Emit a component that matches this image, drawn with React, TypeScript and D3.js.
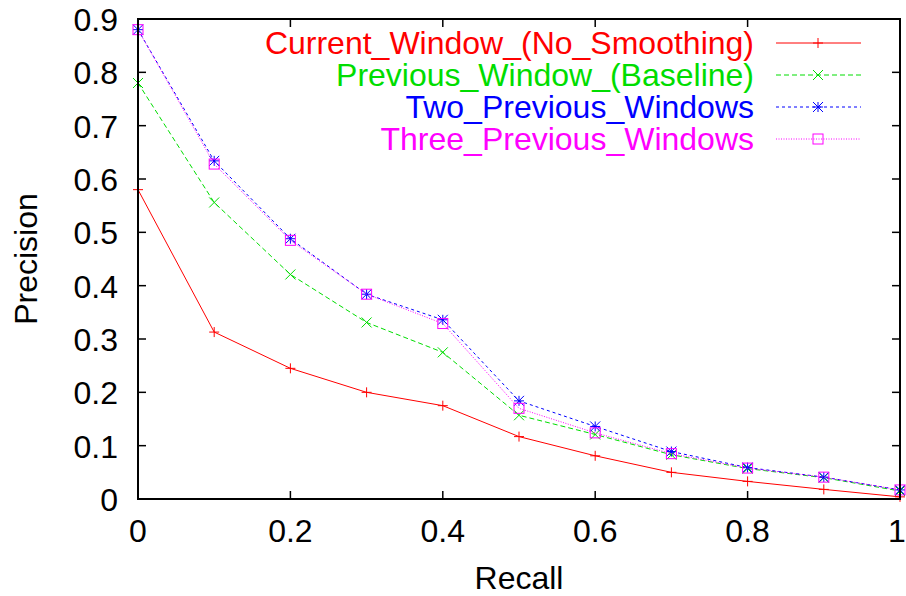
import React from "react";
import * as d3 from "d3";

const W = 906;
const H = 596;

// Recall levels on the x axis
const recall = [0, 0.1, 0.2, 0.3, 0.4, 0.5, 0.6, 0.7, 0.8, 0.9, 1.0];

// Precision at each recall level, one array per smoothing variant
const currentWindow = [0.58, 0.313, 0.245, 0.2, 0.175, 0.117, 0.081, 0.05, 0.033, 0.018, 0.004];
const previousWindow = [0.78, 0.556, 0.421, 0.331, 0.275, 0.157, 0.121, 0.083, 0.057, 0.04, 0.015];
const twoPrevious = [0.88, 0.634, 0.488, 0.384, 0.336, 0.184, 0.136, 0.089, 0.059, 0.041, 0.017];
const threePrevious = [0.88, 0.628, 0.485, 0.384, 0.329, 0.17, 0.124, 0.085, 0.058, 0.041, 0.017];

const seriesNames = [
  "Current_Window_(No_Smoothing)",
  "Previous_Window_(Baseline)",
  "Two_Previous_Windows",
  "Three_Previous_Windows",
];

const xTicks = [0, 0.2, 0.4, 0.6, 0.8, 1];
const yTicks = [0, 0.1, 0.2, 0.3, 0.4, 0.5, 0.6, 0.7, 0.8, 0.9];

type Marker = "plus" | "cross" | "star" | "square";

const styles: { color: string; dash: string; marker: Marker }[] = [
  { color: "#ff0000", dash: "none", marker: "plus" },
  { color: "#00dd00", dash: "5,3", marker: "cross" },
  { color: "#0000ff", dash: "3,3", marker: "star" },
  { color: "#ff00ff", dash: "1,1.5", marker: "square" },
];

const FONT = "'Liberation Sans', Arial, sans-serif";
const FS = 32;

const left = 138;
const right = 900;
const top = 19;
const bottom = 499;

const x = d3.scaleLinear().domain([0, 1]).range([left, right]);
const y = d3.scaleLinear().domain([0, 0.9]).range([bottom, top]);

function MarkerShape({ kind, cx, cy, color }: { kind: Marker; cx: number; cy: number; color: string }) {
  const s = 5;
  const p = { stroke: color, strokeWidth: 1, fill: "none" };
  if (kind === "plus") {
    return <path {...p} d={`M${cx - s},${cy}H${cx + s}M${cx},${cy - s}V${cy + s}`} />;
  }
  if (kind === "cross") {
    return (
      <path {...p} d={`M${cx - s},${cy - s}L${cx + s},${cy + s}M${cx - s},${cy + s}L${cx + s},${cy - s}`} />
    );
  }
  if (kind === "star") {
    return (
      <path
        {...p}
        d={`M${cx - s},${cy}H${cx + s}M${cx},${cy - s}V${cy + s}M${cx - s},${cy - s}L${cx + s},${cy + s}M${cx - s},${cy + s}L${cx + s},${cy - s}`}
      />
    );
  }
  return <rect {...p} x={cx - s} y={cy - s} width={2 * s} height={2 * s} />;
}

export default function App() {
  const series = [currentWindow, previousWindow, twoPrevious, threePrevious];
  const line = d3
    .line<number>()
    .x((_, i) => x(recall[i]))
    .y((d) => y(d));

  const legendRowY = (i: number) => 43 + i * 32;
  const legendTextX = 754;
  const sampleX0 = 776;
  const sampleX1 = 861;
  const sampleMid = 818;

  return (
    <svg
      width={W}
      height={H}
      style={{ position: "absolute", left: 0, top: 0, background: "#fff" }}
      fontFamily={FONT}
    >
      {/* ticks on all four sides */}
      {yTicks.map((t) => (
        <g key={`y${t}`}>
          <line x1={left} x2={left + 8} y1={y(t)} y2={y(t)} stroke="#000" strokeWidth={1.5} />
          <line x1={right} x2={right - 8} y1={y(t)} y2={y(t)} stroke="#000" strokeWidth={1.5} />
          <text x={118} y={y(t) + 12} fontSize={FS} textAnchor="end" fill="#000">
            {t === 0 ? "0" : t.toFixed(1)}
          </text>
        </g>
      ))}
      {xTicks.map((t) => (
        <g key={`x${t}`}>
          <line x1={x(t)} x2={x(t)} y1={bottom} y2={bottom - 8} stroke="#000" strokeWidth={1.5} />
          <line x1={x(t)} x2={x(t)} y1={top} y2={top + 8} stroke="#000" strokeWidth={1.5} />
          <text x={Math.min(x(t), 897)} y={542} fontSize={FS} textAnchor="middle" fill="#000">
            {t === 0 ? "0" : t === 1 ? "1" : t.toFixed(1)}
          </text>
        </g>
      ))}

      {/* axis titles */}
      <text x={(left + right) / 2} y={589} fontSize={FS} textAnchor="middle" fill="#000">
        Recall
      </text>
      <text
        transform={`translate(37,${(top + bottom) / 2}) rotate(-90)`}
        fontSize={FS}
        textAnchor="middle"
        fill="#000"
      >
        Precision
      </text>

      {/* data series */}
      {series.map((vals, si) => (
        <g key={`s${si}`}>
          <path
            d={line(vals) || ""}
            fill="none"
            stroke={styles[si].color}
            strokeWidth={1}
            strokeDasharray={styles[si].dash}
          />
          {vals.map((v, i) => (
            <MarkerShape key={i} kind={styles[si].marker} cx={x(recall[i])} cy={y(v)} color={styles[si].color} />
          ))}
        </g>
      ))}

      {/* legend */}
      {seriesNames.map((name, i) => (
        <g key={`l${i}`}>
          <text x={legendTextX} y={legendRowY(i) + 11} fontSize={FS} textAnchor="end" fill={styles[i].color}>
            {name}
          </text>
          <line
            x1={sampleX0}
            x2={sampleX1}
            y1={legendRowY(i)}
            y2={legendRowY(i)}
            stroke={styles[i].color}
            strokeWidth={1}
            strokeDasharray={styles[i].dash}
          />
          <MarkerShape kind={styles[i].marker} cx={sampleMid} cy={legendRowY(i)} color={styles[i].color} />
        </g>
      ))}

      {/* plot frame */}
      <rect x={left} y={top} width={right - left} height={bottom - top} fill="none" stroke="#000" strokeWidth={2} />
    </svg>
  );
}
